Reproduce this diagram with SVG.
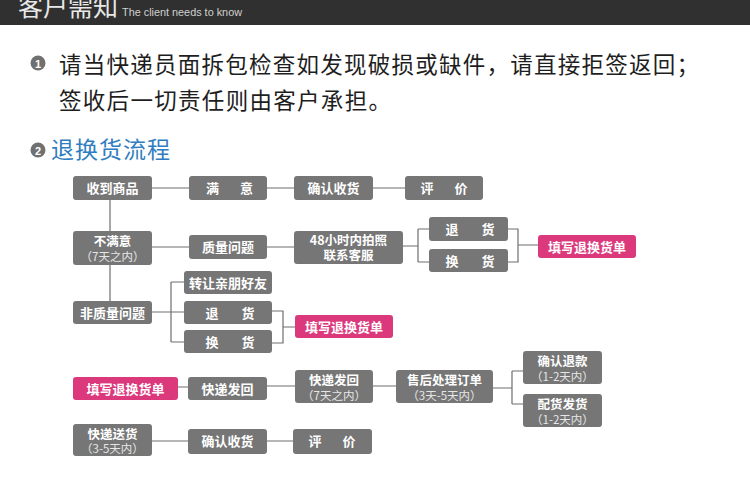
<svg xmlns="http://www.w3.org/2000/svg" width="750" height="496" viewBox="0 0 750 496">
<style>
.bx{fill:#767676}
.pk{fill:#dc397d}
.t{font-family:"Noto Sans CJK SC","Noto Sans",sans-serif;font-size:13px;font-weight:bold;fill:#fff;text-anchor:middle}
.t2{font-family:"Noto Sans CJK SC","Noto Sans",sans-serif;font-size:12.5px;font-weight:bold;fill:#fff;text-anchor:middle}
.s{font-family:"Noto Sans CJK SC","Noto Sans",sans-serif;font-size:11.5px;fill:#e6e6e6;text-anchor:middle}
.ln{stroke:#6e6e6e;stroke-width:1.2;fill:none}
.body{font-family:"Noto Sans CJK SC","Noto Sans",sans-serif;font-size:22.5px;fill:#1e1e1e}
</style>
<rect width="750" height="496" fill="#fff"/>
<g id="header">
<rect x="0" y="0" width="750" height="25" fill="#303030"/>
<text x="18" y="16" font-family="Noto Sans CJK SC, sans-serif" font-size="25" fill="#e8e8e8">客户需知</text>
<text x="122" y="16" font-family="Liberation Sans, sans-serif" font-size="11" fill="#d0d0d0" textLength="120" lengthAdjust="spacingAndGlyphs">The client needs to know</text>
</g>
<g id="note1">
<circle cx="38" cy="63" r="7.5" fill="#707070"/>
<text x="38" y="67.5" font-family="Liberation Sans, sans-serif" font-size="11" font-weight="bold" fill="#fff" text-anchor="middle">1</text>
<text class="body" x="59" y="73" textLength="640" lengthAdjust="spacing">请当快递员面拆包检查如发现破损或缺件，请直接拒签返回；</text>
<text class="body" x="59" y="109" textLength="332" lengthAdjust="spacing">签收后一切责任则由客户承担。</text>
</g>
<g id="title2">
<circle cx="38" cy="150" r="7.5" fill="#707070"/>
<text x="38" y="154.5" font-family="Liberation Sans, sans-serif" font-size="11" font-weight="bold" fill="#fff" text-anchor="middle">2</text>
<text x="51" y="158" font-family="Noto Sans CJK SC, sans-serif" font-size="23" fill="#2f7dc0" textLength="119" lengthAdjust="spacing">退换货流程</text>
</g>
<g id="connectors">
<path class="ln" d="M152 188H189M267 188H294M373 188H405"/>
<path class="ln" d="M110 200V231M110 265V301"/>
<path class="ln" d="M152 247H189M267 247H294M403 246H418M418 229V262M418 229H429M418 262H429M508 229H518V262H508M518 245H538"/>
<path class="ln" d="M152 312H184M171 282V342M171 282H184M171 342H184M272 311H283V343H272M283 327H295"/>
<path class="ln" d="M178 387H188M267 386H295M373 386H396M493 388H512M512 371V404M512 371H523M512 404H523"/>
<path class="ln" d="M152 441H188M267 441H293"/>
</g>
<g id="n-receive"><rect class="bx" x="73" y="176" width="79" height="24" rx="3"/><text class="t" x="112.5" y="193">收到商品</text></g>
<g id="n-satisfied"><rect class="bx" x="189" y="176" width="78" height="24" rx="3"/><text class="t" x="212.5 246.5" y="193">满意</text></g>
<g id="n-confirm1"><rect class="bx" x="294" y="176" width="79" height="24" rx="3"/><text class="t" x="333.5" y="193">确认收货</text></g>
<g id="n-review1"><rect class="bx" x="405" y="176" width="78" height="24" rx="3"/><text class="t" x="427 461" y="193">评价</text></g>
<g id="n-unsatisfied"><rect class="bx" x="73" y="231" width="79" height="34" rx="3"/><text class="t2" x="112.5" y="246">不满意</text><text class="s" x="112.5" y="261">（7天之内）</text></g>
<g id="n-quality"><rect class="bx" x="189" y="235" width="78" height="24" rx="3"/><text class="t" x="228" y="252">质量问题</text></g>
<g id="n-48h"><rect class="bx" x="294" y="231" width="109" height="33" rx="3"/><text class="t2" x="348.5" y="245">48小时内拍照</text><text class="t2" x="348.5" y="260">联系客服</text></g>
<g id="n-return1"><rect class="bx" x="429" y="217" width="79" height="24" rx="3"/><text class="t" x="452 488" y="234">退货</text></g>
<g id="n-exchange1"><rect class="bx" x="429" y="249" width="79" height="23" rx="3"/><text class="t" x="452 488" y="265.5">换货</text></g>
<g id="n-form1"><rect class="pk" x="538" y="235" width="98" height="23" rx="3"/><text class="t" x="587" y="251.5">填写退换货单</text></g>
<g id="n-nonquality"><rect class="bx" x="73" y="301" width="79" height="23" rx="3"/><text class="t" x="112.5" y="317.5">非质量问题</text></g>
<g id="n-transfer"><rect class="bx" x="184" y="271" width="88" height="23" rx="3"/><text class="t" x="228" y="287.5">转让亲朋好友</text></g>
<g id="n-return2"><rect class="bx" x="184" y="301" width="88" height="23" rx="3"/><text class="t" x="212 248" y="317.5">退货</text></g>
<g id="n-exchange2"><rect class="bx" x="184" y="330" width="88" height="23" rx="3"/><text class="t" x="212 248" y="346.5">换货</text></g>
<g id="n-form2"><rect class="pk" x="295" y="315" width="98" height="23" rx="3"/><text class="t" x="344" y="331.5">填写退换货单</text></g>
<g id="n-form3"><rect class="pk" x="73" y="377" width="105" height="23" rx="3"/><text class="t" x="125.5" y="393.5">填写退换货单</text></g>
<g id="n-sendback"><rect class="bx" x="188" y="377" width="79" height="23" rx="3"/><text class="t" x="227.5" y="393.5">快递发回</text></g>
<g id="n-sendback7"><rect class="bx" x="295" y="370" width="78" height="33" rx="3"/><text class="t2" x="334" y="385">快递发回</text><text class="s" x="334" y="400">（7天之内）</text></g>
<g id="n-aftersale"><rect class="bx" x="396" y="370" width="97" height="33" rx="3"/><text class="t2" x="444.5" y="385">售后处理订单</text><text class="s" x="444.5" y="400">（3天-5天内）</text></g>
<g id="n-refund"><rect class="bx" x="523" y="351" width="79" height="33" rx="3"/><text class="t2" x="562.5" y="366">确认退款</text><text class="s" x="562.5" y="381">（1-2天内）</text></g>
<g id="n-reship"><rect class="bx" x="523" y="394" width="79" height="33" rx="3"/><text class="t2" x="562.5" y="409">配货发货</text><text class="s" x="562.5" y="424">（1-2天内）</text></g>
<g id="n-deliver"><rect class="bx" x="73" y="424" width="79" height="32" rx="3"/><text class="t2" x="112.5" y="438.5">快递送货</text><text class="s" x="112.5" y="453">（3-5天内）</text></g>
<g id="n-confirm2"><rect class="bx" x="188" y="429" width="79" height="25" rx="3"/><text class="t" x="227.5" y="446">确认收货</text></g>
<g id="n-review2"><rect class="bx" x="293" y="429" width="79" height="25" rx="3"/><text class="t" x="315 349" y="446">评价</text></g>
</svg>
